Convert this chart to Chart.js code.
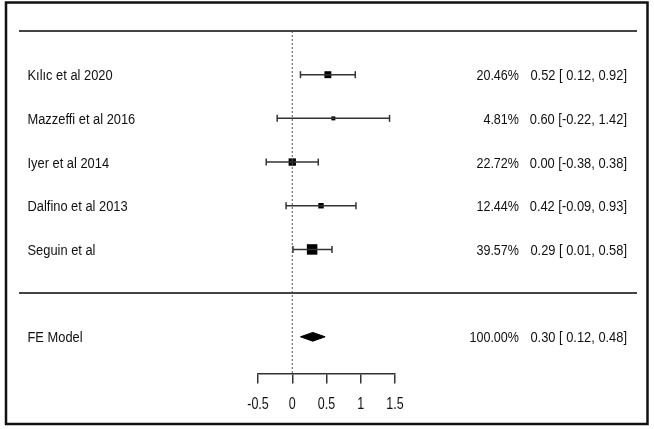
<!DOCTYPE html>
<html><head><meta charset="utf-8">
<style>html,body{margin:0;padding:0;background:#fff}#wrap{width:654px;height:429px;position:relative}canvas{display:block}</style>
<script src="https://cdn.jsdelivr.net/npm/chart.js@4/dist/chart.umd.min.js"></script>
</head><body>
<div id="wrap"><canvas id="c"></canvas></div>
<script>
// ---- data ----
const studies = ["Kılıc et al 2020", "Mazzeffi et al 2016", "Iyer et al 2014", "Dalfino et al 2013", "Seguin et al"];
const estimates = [0.52, 0.60, 0.00, 0.42, 0.29];
const ciLower = [0.12, -0.22, -0.38, -0.09, 0.01];
const ciUpper = [0.92, 1.42, 0.38, 0.93, 0.58];
const weights = [20.46, 4.81, 22.72, 12.44, 39.57];
const summaryLabel = "FE Model";
const summaryValues = [0.30, 0.12, 0.48]; // estimate, lower, upper
const summaryWeight = 100.00;
const tickValues = [-0.5, 0, 0.5, 1, 1.5];
const tickLabels = ["-0.5", "0", "0.5", "1", "1.5"];

// ---- layout helpers ----
const rowOf = i => studies.length - i;   // study rows 5..1
const summaryRow = -1;
const yTop = 6, yBottom = -1.84;
const FONT = '"Liberation Sans", Arial, Helvetica, sans-serif';
const wMin = Math.min(...weights), wMax = Math.max(...weights);
const boxRadius = w => (4 + (w - wMin) / (wMax - wMin) * 6.5) / Math.SQRT2;

const datasets = [];
// reference line at 0
datasets.push({
  data: [{x: 0, y: yTop}, {x: 0, y: yBottom}],
  showLine: true, borderColor: '#555', borderWidth: 1, borderDash: [2, 2],
  pointRadius: 0, clip: false
});
// confidence intervals
studies.forEach((s, i) => {
  datasets.push({
    data: [{x: ciLower[i], y: rowOf(i)}, {x: ciUpper[i], y: rowOf(i)}],
    showLine: true, borderColor: '#333', borderWidth: 1.5,
    pointStyle: 'line', rotation: 90, pointRadius: 3.5, pointBorderWidth: 1.5,
    pointBorderColor: '#333', clip: false
  });
});
// boxes
datasets.push({
  data: studies.map((s, i) => ({x: estimates[i], y: rowOf(i)})),
  pointStyle: 'rect', pointRadius: weights.map(boxRadius),
  backgroundColor: '#000', borderColor: '#000', borderWidth: 0, clip: false
});
// summary diamond
const [sEst, sLo, sHi] = summaryValues;
const dh = 0.1;
datasets.push({
  data: [{x: sLo, y: summaryRow}, {x: sEst, y: summaryRow + dh}, {x: sHi, y: summaryRow}, {x: sEst, y: summaryRow - dh}, {x: sLo, y: summaryRow}],
  showLine: true, fill: 'shape', backgroundColor: '#000', borderColor: '#000', borderWidth: 1,
  pointRadius: 0, tension: 0, clip: false
});

function txt(ctx, s, x, y, align, size, sx) {
  ctx.save();
  ctx.font = size + 'px ' + FONT;
  ctx.fillStyle = '#111';
  ctx.translate(x, y);
  ctx.scale(sx, 1);
  ctx.textAlign = align;
  ctx.textBaseline = 'alphabetic';
  ctx.fillText(s, 0, 0);
  ctx.restore();
}
const fmtLo = v => (v < 0 ? '' : ' ') + v.toFixed(2);

const decor = {
  id: 'decor',
  afterDraw(chart) {
    const ctx = chart.ctx, ys = chart.scales.y, xs = chart.scales.x;
    ctx.save();
    // frame
    ctx.strokeStyle = '#111'; ctx.lineWidth = 2.5;
    ctx.strokeRect(6, 2.5, 641.5, 421.5);
    // horizontal rules
    ctx.strokeStyle = '#444'; ctx.lineWidth = 2;
    [yTop, 0].forEach(r => {
      const y = ys.getPixelForValue(r);
      ctx.beginPath(); ctx.moveTo(19, y); ctx.lineTo(637, y); ctx.stroke();
    });
    ctx.restore();
    // study labels and annotations
    studies.forEach((s, i) => {
      const y = ys.getPixelForValue(rowOf(i)) + 5.5;
      txt(ctx, s, 27.5, y, 'left', 15.5, 0.83);
      txt(ctx, weights[i].toFixed(2) + '%', 519, y, 'right', 15.5, 0.81);
      txt(ctx, estimates[i].toFixed(2) + ' [' + fmtLo(ciLower[i]) + ', ' + ciUpper[i].toFixed(2) + ']', 627, y, 'right', 15.5, 0.83);
    });
    const yS = ys.getPixelForValue(summaryRow) + 5.5;
    txt(ctx, summaryLabel, 27.5, yS, 'left', 15.5, 0.83);
    txt(ctx, summaryWeight.toFixed(2) + '%', 519, yS, 'right', 15.5, 0.81);
    txt(ctx, sEst.toFixed(2) + ' [' + fmtLo(sLo) + ', ' + sHi.toFixed(2) + ']', 627, yS, 'right', 15.5, 0.83);
    // tick labels
    tickValues.forEach((v, i) => {
      txt(ctx, tickLabels[i], xs.getPixelForValue(v), 409, 'center', 16, 0.78);
    });
  }
};

new Chart(document.getElementById('c'), {
  type: 'scatter',
  data: {datasets},
  options: {
    responsive: true, maintainAspectRatio: false, animation: false,
    layout: {padding: {left: 258, right: 259, top: 31, bottom: 0}},
    plugins: {legend: {display: false}, tooltip: {enabled: false}},
    scales: {
      x: {
        type: 'linear', min: -0.5, max: 1.5,
        ticks: {display: false, stepSize: 0.5},
        grid: {drawOnChartArea: false, drawTicks: true, tickLength: 10, color: '#333', lineWidth: 1.5},
        border: {display: true, color: '#333', width: 1.5},
        afterFit(scale) { scale.height = 55.5; }
      },
      y: {
        type: 'linear', min: yBottom, max: yTop, display: false
      }
    }
  },
  plugins: [decor]
});
</script>
</body></html>
